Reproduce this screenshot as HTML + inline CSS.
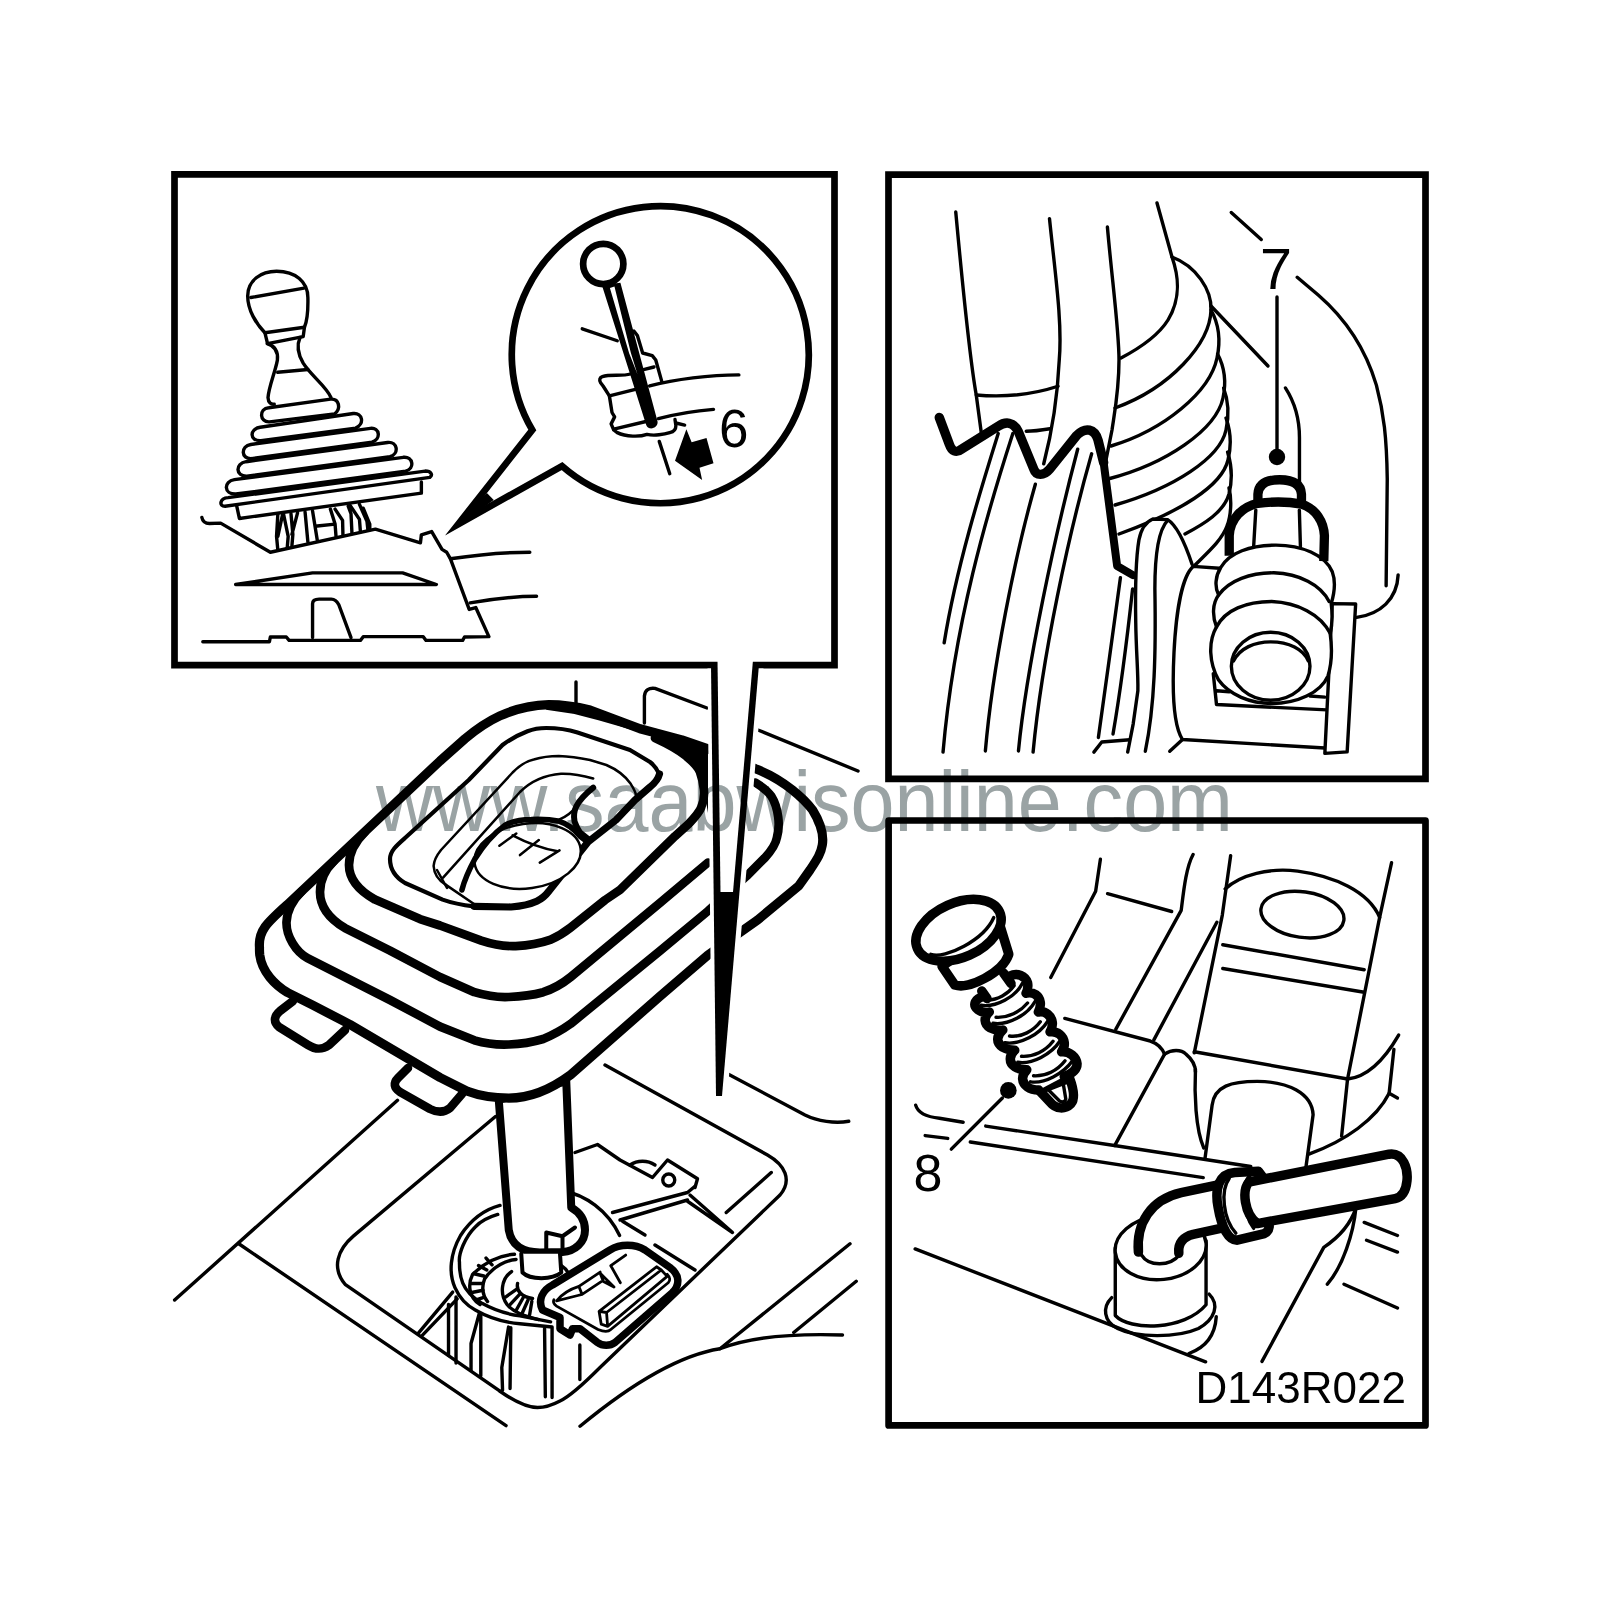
<!DOCTYPE html>
<html><head><meta charset="utf-8">
<style>
html,body{margin:0;padding:0;background:#fff;}
body{width:1599px;height:1600px;overflow:hidden;font-family:"Liberation Sans",sans-serif;}
svg{display:block;position:absolute;left:0;top:0;}
.k{fill:none;stroke:#000;stroke-linecap:round;stroke-linejoin:round;vector-effect:non-scaling-stroke;}
.k path,.k line,.k circle,.k ellipse,.k polyline,.k rect{vector-effect:non-scaling-stroke;}
.w3{stroke-width:3.2}
.w2{stroke-width:3.4}
.w4{stroke-width:4.6}
.w6{stroke-width:6.7}
.wf{fill:#fff}
.g{stroke:#9c9c9c}
</style></head><body>
<svg width="1599" height="1600" viewBox="0 0 1599 1600">
<rect width="1599" height="1600" fill="#fff"/>
<!--BG-->
<!--FRAMES-->
<!--TL-->
<g id="frames" class="k w6" style="stroke-linejoin:miter;stroke-linecap:butt">
<rect x="174.5" y="174.3" width="660" height="490.8"/>
</g>
<g id="tl-knob" class="k w2" transform="translate(200,260) scale(0.15635)">
<path class="wf" d="M415,465 C360,410 305,320 305,230 C305,130 390,72 490,72 C610,72 690,140 690,240 C692,330 685,390 668,430 L660,490 L432,535 Z"/>
<path d="M325,240 L665,180"/>
<path d="M415,465 L668,430"/>
<path d="M430,535 C480,550 500,590 495,640 C480,720 440,810 435,880 C437,915 455,925 475,922"/>
<path d="M640,495 C620,540 625,600 660,660 C710,740 810,810 838,880"/>
<path d="M497,718 L690,700"/>
<path d="M440,945 L835,890 C890,885 905,950 860,985 L445,1035 C380,1040 375,950 440,945Z"/>
<path d="M385,1070 L980,982 C1040,975 1055,1050 995,1075 L390,1155 C315,1160 315,1080 385,1070Z"/>
<path d="M325,1180 L1090,1077 C1150,1070 1160,1145 1100,1165 L330,1270 C260,1275 260,1190 325,1180Z"/>
<path d="M295,1290 L1200,1167 C1265,1160 1275,1240 1215,1258 L300,1382 C225,1385 225,1300 295,1290Z"/>
<path d="M220,1405 L1300,1262 C1365,1255 1375,1335 1315,1350 L230,1497 C150,1500 150,1415 220,1405Z"/>
<path d="M180,1520 L1440,1350 C1480,1350 1490,1375 1470,1390 L160,1575 C120,1575 125,1525 180,1520Z"/>
</g>
<g id="tl-base" class="k w2" transform="translate(200,480) scale(0.1876)">
<path d="M195,135 L210,205 L1180,70 L1180,10"/>
<path d="M415,180 L408,300 L415,375 M440,185 L415,300 M445,180 L470,300 L465,360 M485,180 L495,290 L490,350 M520,175 L490,290 M560,170 L575,330 M600,165 L625,320 M625,245 L720,235 M695,155 L720,235 L725,300 M720,155 L760,215 L762,295 M790,140 L805,180 L810,285 M800,135 L850,210 L855,275 M850,130 L890,220 L895,265 M870,150 L905,235 L905,265"/>
<path d="M10,200 C15,225 30,232 50,232 L110,230 L375,385 L935,262 L1175,335 L1180,292 L1235,275 L1290,370 L1315,385 L1335,420 L1435,690 L1470,680 L1540,835 L1410,837 L1400,855 L1205,855 L1190,835 L870,835 L855,855 L475,855 L460,837 L375,837 L370,862 L15,862"/>
<path d="M1335,420 C1500,395 1640,385 1758,385"/>
<path d="M1440,655 C1580,630 1690,620 1794,620"/>
<path d="M190,557 L600,495 L1080,495 L1260,557 Z"/>
<path d="M600,840 L600,660 C600,640 615,635 635,635 L700,635 C720,635 730,645 740,665 L805,840"/>
</g>
<g id="balloon" class="k w6" style="stroke-linejoin:miter;stroke-miterlimit:20;stroke-linecap:butt">
<path class="wf" d="M532.3,430 A148.5,148.5 0 1 1 562,466 L458.1,524.3 Z"/>
<path d="M445.6,535 L486.9,493.1 L493.75,500 Z" style="fill:#000;stroke:none"/>
</g>
<g id="inset" transform="translate(570,220) scale(0.175)">
<g class="k w2">
<path d="M70,622 L270,690"/>
<path d="M365,635 L385,660 L415,760 L470,775 L490,800 L525,925"/>
<path d="M420,855 L480,840"/>
<path d="M455,948 C600,910 800,885 965,885"/>
<path d="M345,880 C300,895 230,880 185,895 C170,900 165,915 175,930 L190,950 L225,1005 L240,1100 L255,1125 L235,1165 L250,1200 L270,1215 C320,1240 400,1240 440,1225 C480,1235 540,1225 570,1215 C590,1210 605,1195 605,1175 L600,1140"/>
<path d="M225,1005 L385,965"/>
<path d="M250,1195 L440,1150"/>
<path d="M505,1135 C600,1110 720,1090 820,1082"/>
<path d="M605,1160 L655,1172"/>
<path d="M510,1265 L570,1450"/>
</g>
<circle cx="190" cy="251" r="115" class="k w6 wf"/>
<path d="M182,372 L288,358 L500,1150 C505,1175 480,1195 455,1190 C440,1185 437,1175 435,1170 Z" fill="#000"/>
<path d="M228,388 L254,380 L348,760 L385,880 L338,762 Z" fill="#fff"/>
<path d="M600,1375 L665,1195 L695,1270 L780,1245 L820,1390 L740,1415 L755,1485 Z" fill="#000"/>
</g>
<text x="719" y="447" font-size="53" fill="#000" font-family="Liberation Sans, sans-serif">6</text>
<!--TL3-->
<!--TR-->
<g id="tr-a" class="k w2" transform="translate(880,160) scale(0.25)">
<path d="M303,208 C330,500 360,800 385,940 L405,1090"/>
<path d="M678,235 C700,450 730,650 717,800 C710,950 690,1080 655,1215"/>
<path d="M385,940 C500,950 620,935 712,905"/>
<path d="M585,1085 C620,1085 650,1080 680,1075"/>
<path d="M1405,210 L1525,318"/>
</g>
<g id="tr-b" class="k w2" transform="translate(1080,240) scale(0.2)">
<path d="M137,-65 C160,200 195,450 195,600 C195,750 175,850 160,950 L130,1100"/>
<path d="M385,-185 L460,85 C500,200 500,300 440,400 C390,480 300,540 205,590"/>
<path d="M460,85 C580,130 660,250 655,350 C650,520 450,740 175,840"/>
<path d="M655,350 C700,430 700,520 685,590 C650,760 420,950 155,1030"/>
<path d="M688,570 C725,640 730,720 715,790 C680,950 430,1120 140,1195"/>
<path d="M718,740 C745,810 745,880 730,950 C700,1090 470,1240 175,1325"/>
<path d="M730,890 C755,960 755,1040 740,1100 C710,1230 500,1360 195,1470"/>
<path d="M738,1060 C760,1130 760,1210 745,1270 C720,1360 620,1420 525,1470"/>
<path d="M745,1240 C760,1300 755,1380 735,1430 C710,1500 640,1560 560,1640"/>
<path d="M655,330 L940,630"/>
<path d="M985,285 L985,1060"/>
<circle cx="985" cy="1085" r="41" style="fill:#000;stroke:none"/>
</g>
<g id="tr-c" class="k w2" transform="translate(1140,160) scale(0.1876)">
<path d="M838,625 L950,720 C1100,850 1200,1000 1260,1200 C1300,1350 1315,1480 1318,1700 L1312,2270"/>
<path d="M775,1215 C830,1300 850,1400 850,1480 L850,1730"/>
</g>
<g id="tr-d" class="k w2" transform="translate(880,420) scale(0.22514)">
<path d="M525,60 C450,300 340,650 285,990"/>
<path d="M590,60 C480,400 330,900 280,1475"/>
<path d="M690,285 C600,600 500,1100 468,1470"/>
<path d="M878,130 C780,500 650,1100 615,1470"/>
<path d="M940,150 C840,500 720,1050 680,1475"/>
<path d="M1068,700 C1040,900 1000,1200 970,1410"/>
<path d="M1122,750 C1100,950 1060,1250 1035,1395"/>
<path d="M950,1475 L985,1430 L1110,1420"/>
</g>
<g id="tr-e" class="k w2" transform="translate(1140,440) scale(0.21246)">
<path class="wf" d="M60,372 C30,385 5,420 -5,470 C-20,560 -22,750 -20,860 C-18,1000 -8,1100 -10,1180 L-32,1336 L-58,1469 L140,1465 L200,1410 C160,1350 150,1200 160,1000 C170,800 200,640 250,595 L245,585 C210,480 170,400 130,375Z" style="stroke:none"/>
<path d="M-58,1469 L-32,1336 L-10,1180 C-8,1100 -18,1000 -20,860 C-22,750 -20,560 -5,470 C5,420 30,385 60,372 L130,375 C170,400 210,480 245,585"/>
<path d="M130,378 C90,420 70,520 70,700 C75,1000 70,1250 25,1465"/>
<path class="wf" d="M390,605 L250,595 C200,640 170,800 160,1000 C150,1200 160,1350 200,1410 L870,1450"/>
<path d="M200,1410 L140,1465"/>
<path d="M345,1100 L360,1245 L880,1270 M360,1180 L420,1185 M800,1205 L870,1210"/>
<path class="wf" d="M905,770 L1015,772 L975,1468 L870,1475 Z"/>
<path d="M1215,635 C1210,750 1130,820 1020,835"/>
<path d="M545,330 L535,500 M750,330 L755,500"/>
<path class="wf" d="M380,600 C420,530 520,495 640,495 C760,495 870,540 905,620 C920,660 915,720 900,770 C905,810 905,870 895,910 C905,980 900,1060 885,1110 C850,1190 740,1240 620,1240 C520,1240 420,1200 370,1130 C325,1050 320,950 360,880 C340,830 340,770 370,730 C350,690 355,640 380,600Z"/>
<path d="M370,730 C420,660 520,625 630,625 C750,630 850,680 890,760"/>
<path d="M360,880 C400,800 500,760 620,760 C740,765 850,820 895,910"/>
<ellipse cx="615" cy="1065" rx="185" ry="160"/>
<path d="M440,1040 C470,980 540,950 615,950 C700,950 770,985 792,1040"/>
</g>
<g id="tr-clip" class="k" transform="translate(1140,440) scale(0.21246)" style="stroke-width:9.3;stroke-linecap:butt">
<path d="M420,545 L420,450 C425,370 480,315 555,298 C620,290 700,290 760,302 C830,325 865,385 868,450 L865,570"/>
<path d="M555,298 L555,255 C558,205 600,187 657,187 C715,187 757,205 760,255 L760,302"/>
</g>
<g id="tr-zig" class="k" transform="translate(878.5,417.5) scale(0.22514)" style="stroke-width:9.4">
<path d="M270,0 L315,120 C325,150 345,160 370,140 L530,40 C565,15 600,20 620,60 L690,230 C700,260 735,260 760,230 L880,80 C920,40 960,50 975,100 L1000,200"/>
<path d="M1000,200 L1060,660 L1130,700" style="stroke-width:8"/>
</g>
<g id="frames2" class="k w6" style="stroke-linejoin:miter;stroke-linecap:butt">
<rect x="888.5" y="174.7" width="537" height="604.1"/>
</g>
<text x="1260" y="289.3" font-size="57.5" fill="#000" font-family="Liberation Sans, sans-serif">7</text>
<!--TR2-->
<!--BR-->
<g id="br-a" class="k w2" transform="translate(1060,820) scale(0.23765)">
<path d="M170,165 L150,300 L-39,663"/>
<path d="M200,310 L470,385"/>
<path d="M560,145 C530,200 520,300 510,380 L235,880"/>
<path d="M20,835 L380,930 C410,940 430,960 440,985"/>
<path d="M660,430 L395,925"/>
<path d="M440,985 C470,965 510,965 530,985 C560,1010 570,1040 570,1060"/>
<path d="M440,985 L230,1370"/>
<path d="M570,1050 C565,1150 570,1300 605,1380"/>
<path d="M718,150 L683,400 L565,980"/>
<path d="M695,290 C760,230 880,200 1000,215 C1150,235 1300,300 1345,410"/>
<path d="M1395,180 L1345,410 L1210,1090 L1185,1330"/>
<ellipse cx="1020" cy="398" rx="176" ry="96" transform="rotate(8 1020 398)"/>
<path d="M685,525 L1280,630"/>
<path d="M685,625 L1280,725"/>
<path d="M565,975 L1210,1090"/>
<path d="M1210,1090 C1300,1080 1370,1000 1425,905"/>
<path d="M1405,965 L1385,1150 L1420,1170"/>
<path d="M1385,1150 C1330,1260 1200,1350 1050,1405"/>
<path d="M610,1425 L640,1200 C650,1120 720,1100 830,1100 C960,1100 1060,1150 1065,1240 L1035,1460"/>
</g>
<g id="br-b" class="k w2" transform="translate(880,1060) scale(0.23765)">
<path d="M150,190 C160,225 200,240 250,245 L350,262"/>
<path d="M445,278 L1000,362 L1560,448"/>
<path d="M190,318 L285,330"/>
<path d="M380,345 L1360,495"/>
<path d="M515,160 L300,375"/>
<circle cx="540" cy="128" r="35" style="fill:#000;stroke:none"/>
<path class="wf" d="M975,1000 C935,1040 940,1100 1000,1130 C1080,1170 1250,1170 1340,1130 C1410,1090 1430,1030 1385,985"/>
<path d="M1300,1235 C1370,1210 1410,1160 1415,1080"/>
<path class="wf" d="M990,790 L990,1075 C1050,1140 1280,1140 1372,1030 L1372,760"/>
<ellipse class="wf" cx="1181" cy="790" rx="192" ry="134" transform="rotate(-6 1181 790)"/>
<path d="M1100,820 C1130,870 1220,870 1260,820"/>
<path d="M148,795 L1370,1270"/>
</g>
<g id="br-c" class="k w2" transform="translate(1060,1100) scale(0.23765)">
<path d="M1245,455 C1230,500 1200,560 1110,620 L850,1100"/>
<path d="M1245,455 C1235,560 1190,700 1125,775"/>
<path d="M1280,515 L1420,570 M1290,590 L1420,640 M1195,775 L1420,875"/>
</g>
<g id="br-pipe" class="k" transform="translate(1060,1100) scale(0.23765)" style="stroke-width:9.5">
<path class="wf" d="M330,640 C320,520 380,420 510,390 L690,352 L700,535 L560,565 C520,575 495,600 500,645" />
<path class="wf" d="M835,300 L735,305 C670,310 650,370 665,450 C680,540 710,590 745,590 L860,562 C885,550 885,520 870,500 L850,320Z"/>
<path class="wf" d="M830,520 C775,480 765,380 795,345 L1385,228 C1445,220 1465,290 1460,340 C1455,390 1435,410 1410,415 Z"/>
</g>
<g id="br-pipe2" class="k w2" transform="translate(1060,1100) scale(0.23765)">
<path d="M712,330 C675,380 685,500 740,560"/>
<path d="M800,318 C762,350 765,470 815,540"/>
</g>
<g id="bolt" transform="translate(900,880) scale(0.15004)">
<g class="k" style="stroke-width:9.5">
<path class="wf" d="M925,1400 L1000,1480 C1040,1530 1100,1530 1140,1490 C1165,1460 1160,1400 1130,1320Z"/>
<path d="M560,775 L925,1400 L1095,1310 L735,640Z" style="fill:#fff;stroke:none"/>
<path class="wf" d="M560,775 C500,790 480,830 520,865 C540,880 570,885 595,880 C555,915 560,960 600,985 C630,1000 660,1005 685,1000 C640,1040 640,1085 685,1115 C710,1130 740,1135 765,1135 C725,1170 725,1220 765,1245 C790,1260 820,1265 845,1265 C805,1305 810,1350 850,1380 C870,1395 900,1400 925,1400"/>
<path class="wf" d="M735,640 C780,615 835,640 850,685 C855,710 850,735 840,755 C890,740 930,775 935,815 C938,840 932,860 922,880 C970,870 1010,905 1015,950 C1018,975 1010,995 1000,1012 C1050,1005 1090,1040 1095,1085 C1097,1110 1088,1130 1077,1145 C1130,1140 1175,1180 1180,1225 C1180,1260 1150,1290 1095,1310"/>
</g>
<g class="k w2">
<path d="M540,835 C640,850 770,780 815,690 M585,800 C650,800 720,760 760,705"/>
<path d="M620,955 C720,970 850,900 900,810 M640,915 C720,920 800,880 850,820"/>
<path d="M700,1085 C800,1100 930,1030 985,940 M730,1040 C810,1050 890,1005 935,945"/>
<path d="M785,1215 C880,1230 1010,1160 1065,1075 M810,1175 C890,1180 970,1140 1020,1075"/>
<path d="M870,1345 C960,1360 1090,1290 1150,1205 M890,1305 C970,1310 1050,1270 1100,1205"/>
<path d="M985,1395 L1060,1470 C1080,1485 1100,1480 1105,1460 L1085,1340"/>
</g>
<g class="k" style="stroke-width:9.5">
<path d="M545,740 L585,795 L745,695 L690,620Z" style="fill:#fff;stroke:none"/><path d="M545,740 L580,790 M690,620 L740,690"/>
<path class="wf" d="M280,575 L365,700 C460,730 680,620 725,495 L665,300Z"/>
<ellipse class="wf" cx="390" cy="335" rx="300" ry="182" transform="rotate(-24 390 335)"/>
</g>
<g class="k w2">
<path d="M205,495 C300,530 560,400 625,250"/>
</g>
</g>
<g id="frames3" class="k" style="stroke-linejoin:round;stroke-linecap:butt;stroke-width:6.7">
<rect x="888.6" y="820.5" width="536.9" height="604.9"/>
</g>
<text x="913.5" y="1191.4" font-size="52" fill="#000" font-family="Liberation Sans, sans-serif">8</text>
<text x="1195.5" y="1402.8" font-size="44" fill="#000" font-family="Liberation Sans, sans-serif">D143R022</text>
<!--BR2-->
<!--MAIN-->
<g id="top-bg" class="k w2">
<path d="M576,682 L576,703"/>
<path d="M644.4,723 L644.4,696 C645,690 649,687.6 655,688.4 L707,708"/>
<path d="M758,730 L858,771"/>
</g>
<g id="low-a" class="k w2" transform="translate(160,1040) scale(0.22514)">
<path d="M1055,268 L65,1155"/>
<path d="M350,905 L1537,1713"/>
<path d="M1490,340 L860,870 C790,930 760,1010 822,1085 L1510,1560"/>
<path d="M1145,1305 L1300,1120 M1165,1312 L1320,1150"/>
</g>
<g id="tabs" class="k" style="stroke-width:8.6">
<path d="M293,1001 L280,1011 C274,1016 273,1022 279,1027 L308,1045 C316,1050 322,1050 329,1045 L345,1030"/>
<path d="M408,1068 L398,1078 C393,1083 394,1088 400,1092 L430,1109 C438,1113 444,1113 450,1108 L462,1094"/>
</g>
<g id="low-b" class="k w2" transform="translate(480,1060) scale(0.25)">
<path d="M500,20 L1150,380 C1220,420 1250,480 1200,540 L480,1230 C400,1310 350,1350 320,1364 C290,1380 260,1390 230,1390 C180,1390 130,1360 80,1325"/>
<path d="M990,55 L1300,220 C1350,245 1420,255 1475,245"/>
<path d="M380,370 L470,338 L560,400 L690,470 L750,400 L870,475 L860,510"/>
<path d="M600,420 C630,400 670,400 700,420"/>
<circle cx="755" cy="480" r="24"/>
<path d="M530,610 L830,530 L860,505 M560,640 L830,560 M570,645 L660,700"/>
<path d="M840,540 L1010,690 L830,565"/>
<path d="M985,610 L1165,450"/>
<path d="M700,740 L860,840"/>
<path d="M1480,735 L960,1155 M1505,885 L1255,1090"/>
<path d="M400,1465 C600,1300 800,1180 960,1155 C1100,1100 1300,1095 1450,1100"/>
</g>
<g id="gear" class="k w2" transform="translate(420,1240) scale(0.15009)">
<path d="M533,-230 C420,-200 338,-133 270,-30 C200,93 190,220 233,317 C270,400 320,440 368,466 C480,530 570,550 666,558 L880,580"/>
<path d="M518,-170 C450,-150 400,-120 368,-87 C300,-20 255,93 263,150 C262,220 270,250 285,288 C310,350 360,390 413,422 C500,470 580,495 666,505 L870,545"/>
<path d="M950,-330 C1100,-300 1250,-200 1330,-30"/>
<path d="M630,95 C560,100 450,130 350,230 C320,290 320,380 400,430 M640,130 C580,135 490,170 430,260 C410,310 415,370 450,410"/>
<path d="M440,120 L480,165 M390,170 L445,200 M360,225 L425,240 M340,290 L420,290 M345,350 L420,335 M370,400 L430,380"/>
<path d="M610,210 C540,260 530,360 580,430 C620,480 700,510 790,530 M650,290 C640,340 680,380 750,390"/>
<path d="M570,380 L640,330 M600,430 L665,360 M640,470 L690,380 M680,490 L720,400 M730,500 L745,410"/>
<path d="M940,170 C970,190 990,210 995,240"/>
<path d="M190,430 L190,770 M240,380 L240,820 M395,490 L340,690 L340,870 M405,500 L405,905 M590,580 L545,850 L550,1000 M605,585 L600,990 M830,590 L835,1045 M880,590 L880,1050 M1065,700 L1065,930"/>
</g>
<g id="stalk" class="k" transform="translate(480,1060) scale(0.25)" style="stroke-width:8">
<path class="wf" d="M75,160 L115,680 C125,740 170,770 240,770 L330,768 C380,765 420,730 420,680 C420,640 400,610 365,590 L345,85 Z"/>
<path d="M265,690 L265,765 M265,690 L330,705 L380,670 M330,705 L330,768" style="stroke-width:4"/>
<path class="wf" d="M165,775 L170,850 C200,880 290,880 325,850 L320,775" style="stroke-width:4"/>
</g>
<g id="clip" class="k" transform="translate(480,1060) scale(0.25)">
<path class="wf" d="M250,1000 C230,960 250,920 290,900 L520,760 C560,735 620,735 660,760 L760,830 C800,860 800,900 770,930 L540,1130 C520,1145 490,1145 470,1130 L400,1075 L370,1075 L360,1100 L320,1075 L320,1030 Z" style="stroke-width:7.5"/>
<g class="w2" style="stroke-width:2.8" transform="scale(4) translate(-480,-1060) translate(530,1220) scale(0.10632)">
<path d="M250,760 C300,700 380,650 460,625 L660,490 M250,760 L450,710 L490,700 L670,580 M460,625 L490,700"/>
<path d="M660,500 L790,630 L690,578 Z M760,430 L850,590 M760,430 L900,330"/>
<path d="M650,860 L1190,440 L1235,470 L720,870 Z M650,860 L670,980 L730,1000 L720,870 M730,1000 L1290,530 L1235,470"/>
<path d="M1290,510 C1320,540 1320,570 1300,590 L760,1030 C740,1050 700,1055 640,1030 L250,810 C220,790 215,770 225,750"/>
<path d="M880,260 C960,250 1020,255 1060,270"/>
</g>
</g>

<g id="boot" class="k" style="stroke-width:9.2">
<path class="wf" d="M259.5,947.6 C258,930 268,922 289.5,902.6 L440,761 L465,738.75 C485,722 510,706 548.75,704.6 C565,704.6 578,707 590,710 L640,728.75 L681.9,739.9 L708,748.8 L755.5,768.8 C785,780 805,800 812.6,810 C820,822 824,835 822.3,845 C821,853 818,858 810,870 L798.9,885.7 L757.6,920 L708,955 L660,996.3 L570.7,1074.7 C550,1090 530,1098 508.8,1098.1 C495,1098 480,1096 467.5,1091.3 L440,1077.5 L350,1024.5 L312.5,1005 L287.5,992.5 C275,985 262,972 259.75,955 C259.5,952 259.4,950 259.5,947.6 Z"/>
<path d="M660,735 L708,746 L708,813 L704,790 L698,770 L685,753 L670,742 Z" style="fill:#000;stroke:none"/>
<g style="stroke-width:8.7">
<path d="M302,891 C294,899 287,910 286.5,922 C286,936 296,952 307.5,958.1 L390,1000 L440,1026.6 L474.4,1040.3 C487,1044 498,1045 508.8,1044.5 C522,1044 533,1042 543.2,1039 C553,1035 562,1030 570.7,1023.8 L660,950.9 L708,911 L746.6,876.1 L764.5,858.2 C772,850 776,843 776.9,837.6 C779,830 779,823 778.2,817 C777,808 775,802 771.4,796.3 C767,790 761,786 755.5,782.6"/>
<path d="M334,861 C326,869 320,880 320,892 C320,905 328,918 345,928.1 L390,950.6 L440,977 L474.4,992.2 C487,996 498,997.5 508.8,997 C522,996.5 533,995 543.2,992.2 C553,989 562,984 570.7,977 L660,902.8 L708,862.5"/>
<path d="M365,832 C357,840 349,852 349,865 C349,878 358,890 375,899.6 L420,919.1 L440,925.5 L481.3,940.6 C493,944.5 504,946.5 515.7,946.1 C528,945.5 540,943.5 550,939.9 C558,936.5 565,932 570.7,927.5 L605.1,900 L620,889.9 L675,836.2 L688.8,823.8 C696,816 700,811 701.2,807.3 C704,801 704.5,795 703.9,789.4 C703,782 701.5,776 699.8,771.5 C697,765 692,761 686,756 C679,750 668,744 655,738"/>
<path d="M548,707.5 L575,711.5 L600,718 L640,729.5 L690,746" style="stroke-width:5"/>
</g>
</g>
<g id="boot-in" class="k">
<path d="M659,774 C657,769 654,765 650,762 L630,750 L600,740 L577.5,732.5 C568,729.5 556,728 546.25,728 C538,728 532,729.5 527.5,731.25 C518,735 509,740 502.5,745 L468.75,780 L405,838 C397,845 390,851 390,859 C390,868 395,877 405,883 L442.6,899.6 C452,903 462,905 474,906.3" style="stroke-width:4.2"/>
<path d="M659.5,774 C658,780 655,783 650,787 L635,800 L616,820 L588,842 L549,891 C543,899 535,905 511,907 L474,906.3" style="stroke-width:7.2"/>
<g style="stroke-width:2.5">
<path d="M445.6,884.6 C438,880 434,873 433.6,866 C434,860 437,855 441,850 L512.6,772.5 C520,765 526,761 533.75,759.5 C542,757 550,756 558.75,756 C570,756.5 580,758 590,760 L606.4,765 C618,770 626,777 630.7,783.8 C634,789 635.5,792 636,795"/>
<path d="M443.1,877.6 L520,792 C530,782 545,775 561,773.75 C572,773.5 583,775.5 593.2,778.5"/>
<path d="M437,870 L447,888 M445.6,884.6 L474,904"/>
<ellipse cx="527.6" cy="856" rx="53.5" ry="32.3" transform="rotate(-8 527.6 856)" class="wf"/>
<path d="M559.5,819.4 C568,816 573,811 576.3,806.3"/>
<path d="M512.6,835.4 C527,843 542,848.5 557.6,851.3 M499.4,845.7 L516.3,833.5 M520,855.1 L538.8,840.1 M539.8,862.6 L559.5,850.4"/>
</g>
<path d="M461.9,890 C465,878 470,868 475,858.8 C483,846 493,834 505,825.1 C513,821 522,819.5 531.3,819.4 C541,819 551,819.5 559.5,821.3 C568,824 575,830 580.1,836.3 L587.6,842" style="stroke-width:5.5"/>
<path d="M593.2,787.6 C584,795 579,801 576.3,806.3 C574,811 573.5,816 574.5,821.3 C576,826 578,829.5 580.1,832.6 L589.5,840.1" style="stroke-width:6"/>
</g>
<!--MAIN3-->
<g id="pointer2">
<path d="M707.5,668.5 L763.5,668.5 L727,1100 L712,1100Z" fill="#fff"/>
<path d="M711,664.5 L759,664.5 L722,1096 L716,1096Z" fill="#000"/>
<path d="M717.5,660 L753,660 L733,892 L720.5,892Z" fill="#fff"/>
</g>

<text x="376" y="831" font-size="84.5" fill="#9aa3a4" textLength="857" lengthAdjust="spacingAndGlyphs" font-family="Liberation Sans, sans-serif" style="mix-blend-mode:multiply">www.saabwisonline.com</text>
<!--TEXT-->
</svg>
</body></html>
